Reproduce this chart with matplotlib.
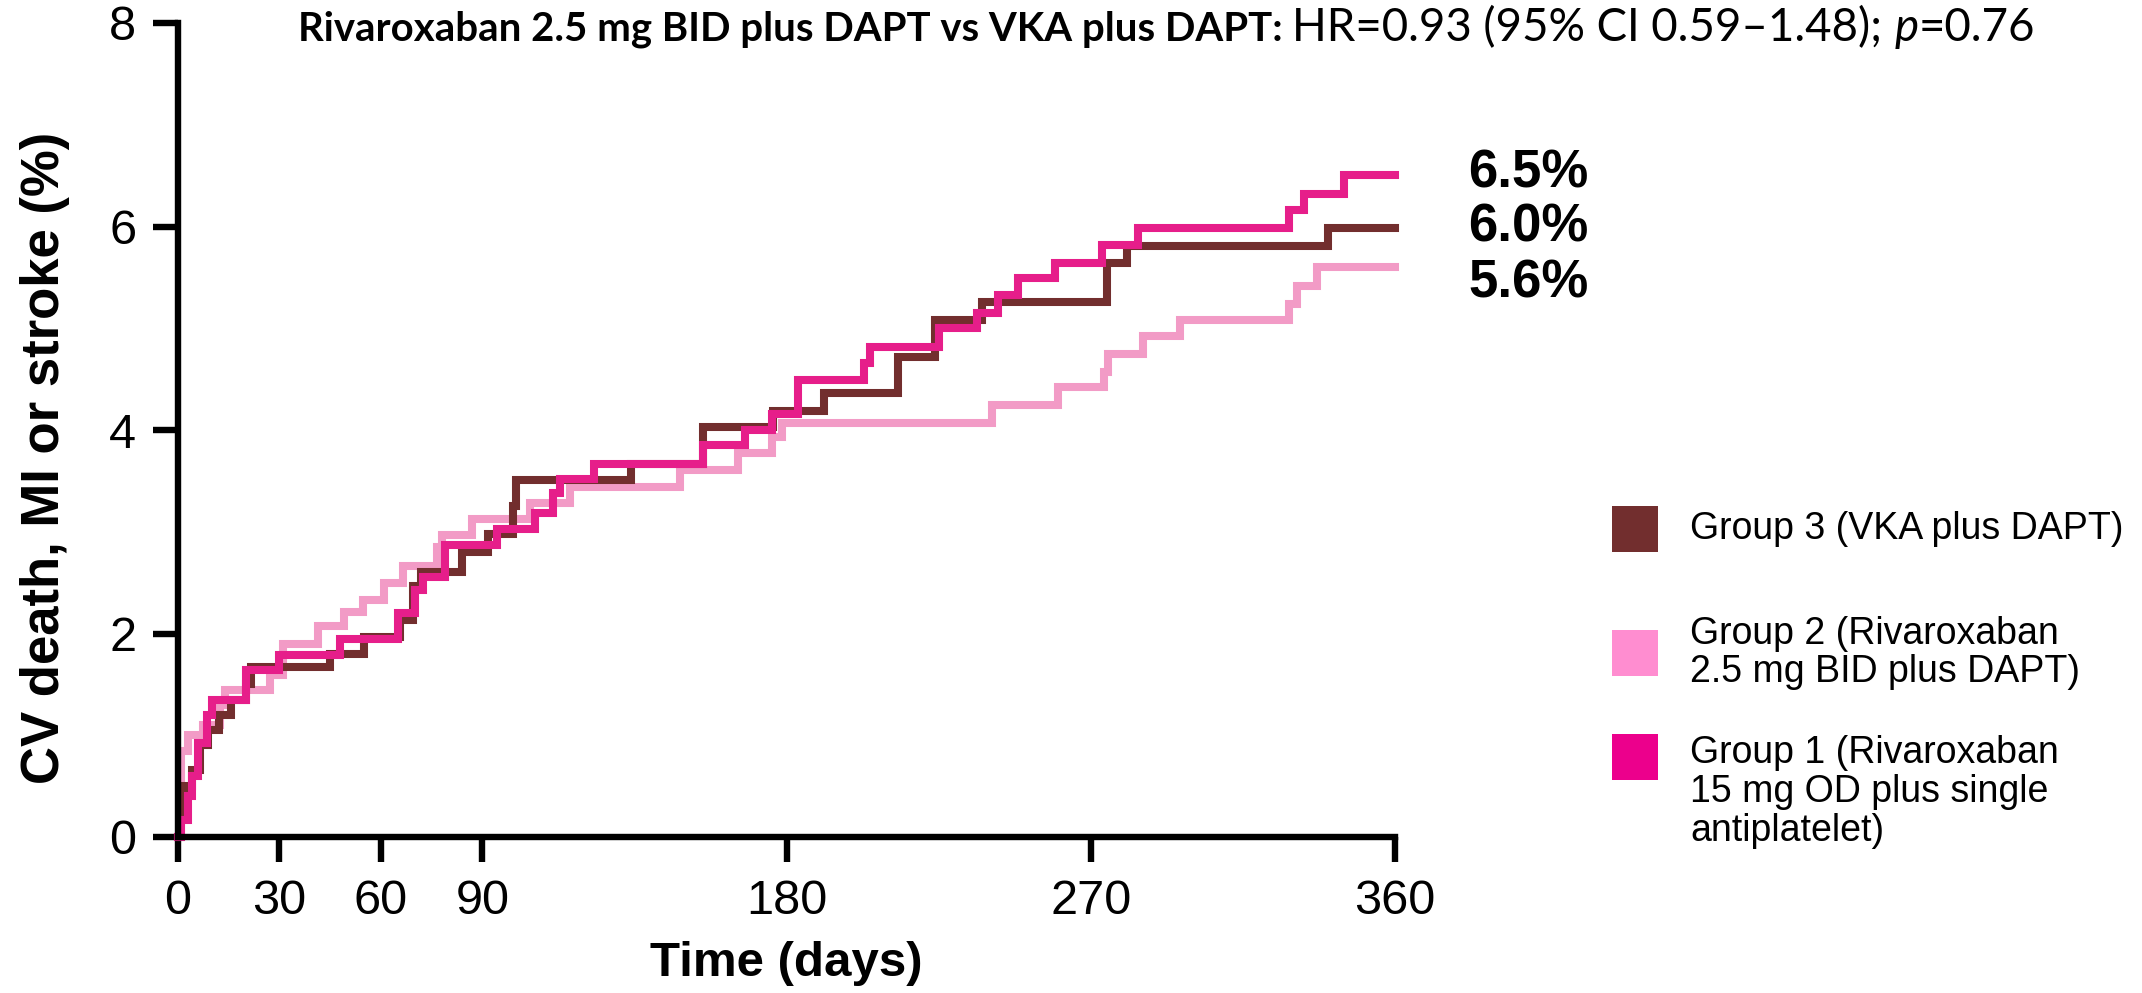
import matplotlib
matplotlib.use('Agg')
import matplotlib.pyplot as plt
from matplotlib.patches import Rectangle

W, H = 2142, 993
DPI = 100

# ---------------- data (step functions) ----------------
g1_days = [0, 1, 3, 4, 6, 8.5, 10, 20, 30, 48, 65, 70, 72.6, 79, 94.3, 105.6, 111, 113,
           123, 155.4, 167.8, 175.6, 183.5, 202.8, 204.8, 225, 236.3, 242.7, 248.6,
           259.5, 273.3, 284, 328.5, 333, 344.8, 360]
g1_vals = [0, 0.17, 0.4, 0.6, 0.92, 1.2, 1.35, 1.64, 1.79, 1.95, 2.2, 2.43, 2.56, 2.87,
           3.03, 3.18, 3.38, 3.52, 3.67, 3.85, 4.0, 4.16, 4.49, 4.66, 4.82, 5.0, 5.15,
           5.33, 5.49, 5.64, 5.82, 5.99, 6.16, 6.32, 6.51, 6.51]

g2_days = [0, 1, 3, 7.5, 12.4, 14, 27.2, 31.2, 41.4, 49, 54.8, 61, 66.7, 76.5, 78, 87,
           104.1, 116, 148.5, 165.8, 175.6, 178.6, 240.7, 260.4, 273.9, 275, 285.6,
           296.4, 328.5, 331, 337, 360]
g2_vals = [0, 0.85, 1.0, 1.1, 1.3, 1.44, 1.59, 1.9, 2.07, 2.21, 2.33, 2.5, 2.66, 2.85,
           2.97, 3.13, 3.28, 3.44, 3.61, 3.77, 3.93, 4.07, 4.25, 4.42, 4.57, 4.75, 4.92,
           5.08, 5.24, 5.42, 5.6, 5.6]

g3_days = [0, 0.5, 2, 4, 6.5, 9, 12, 15.7, 20, 21.5, 45, 55, 65.7, 69.5, 72, 84, 91.8,
           99, 100, 134, 155.4, 176, 191, 213, 224, 237.8, 274.8, 280.6, 340.3, 360]
g3_vals = [0, 0.3, 0.5, 0.66, 0.9, 1.05, 1.2, 1.35, 1.5, 1.67, 1.8, 1.97, 2.13, 2.47,
           2.6, 2.8, 2.98, 3.25, 3.51, 3.67, 4.03, 4.19, 4.36, 4.72, 5.08, 5.26, 5.64,
           5.81, 5.99, 5.99]

x_ticks = [0, 30, 60, 90, 180, 270, 360]
y_ticks = [0, 2, 4, 6, 8]
end_labels = ["6.5%", "6.0%", "5.6%"]
legend_labels = ["Group 3 (VKA plus DAPT)",
                 "Group 2 (Rivaroxaban\n2.5 mg BID plus DAPT)",
                 "Group 1 (Rivaroxaban\n15 mg OD plus single\nantiplatelet)"]

line_colors = {"g1": "#E61E8A", "g2": "#F29BC6", "g3": "#722E2E"}
legend_colors = ["#722E2E", "#FF8DD0", "#EC008C"]

ARIAL = ["Liberation Sans", "DejaVu Sans"]


def fx(x):
    return x / W


def fy(y):
    return 1 - y / H


fig = plt.figure(figsize=(W / DPI, H / DPI), dpi=DPI)
fig.patch.set_facecolor("white")

LW = 5.8
ax = fig.add_axes([fx(178), fy(837), (1395 - 178) / W, (837 - 23) / H])
ax.step(g2_days, g2_vals, where="post", color=line_colors["g2"], lw=LW,
        solid_joinstyle="miter", zorder=2, clip_on=False)
ax.step(g3_days, g3_vals, where="post", color=line_colors["g3"], lw=LW,
        solid_joinstyle="miter", zorder=3, clip_on=False)
ax.step(g1_days, g1_vals, where="post", color=line_colors["g1"], lw=LW,
        solid_joinstyle="miter", zorder=4, clip_on=False)

ax.set_xlim(0, 360)
ax.set_ylim(0, 8)
ax.set_xticks(x_ticks)
ax.set_yticks(y_ticks)
for s in ["top", "right"]:
    ax.spines[s].set_visible(False)
for s in ["left", "bottom"]:
    ax.spines[s].set_linewidth(4.6)
    ax.spines[s].set_capstyle("projecting")
    ax.spines[s].set_zorder(5)
ax.tick_params(direction="out", length=18, width=4.6, labelsize=35, pad=12)
for lab in ax.get_xticklabels() + ax.get_yticklabels():
    lab.set_fontfamily(ARIAL)

fig.text(fx(786), fy(964), "Time (days)", ha="center", va="center",
         fontsize=35.5, fontweight="bold", fontfamily=ARIAL)
fig.text(fx(45), fy(458), "CV death, MI or stroke (%)", ha="center", va="center",
         rotation=90, fontsize=38, fontweight="bold", fontfamily=ARIAL)

# end-of-curve labels
for lab, yc in zip(end_labels, [173, 228, 283]):
    fig.text(fx(1468), fy(yc), lab, ha="left", va="center", fontsize=38,
             fontweight="bold", fontfamily=ARIAL)

# legend
sq = 46
for col, lab, ysq, ytx in zip(legend_colors, legend_labels, [529, 653, 757], [529, 653, 792]):
    fig.patches.append(Rectangle((fx(1612), fy(ysq + sq / 2)), sq / W, sq / H,
                                 transform=fig.transFigure, facecolor=col,
                                 edgecolor="none"))
    fig.text(fx(1690), fy(ytx), lab, ha="left", va="center", fontsize=27,
             fontfamily=ARIAL, linespacing=1.1)

# title made of several runs, baseline aligned
TS = 26
title_parts = [("Rivaroxaban 2.5 mg BID plus DAPT vs VKA plus DAPT: ", "bold", "normal", 0.95),
               ("HR=0.93 (95% CI 0.59\u20131.48); ", "normal", "normal", 1.08),
               ("p", "normal", "italic", 1.08),
               ("=0.76", "normal", "normal", 1.08)]
fig.canvas.draw()
renderer = fig.canvas.get_renderer()
objs = []
for txt, wt, st, k in title_parts:
    t = fig.text(0, fy(41), txt, ha="left", va="baseline", fontsize=TS * k,
                 fontweight=wt, fontstyle=st, fontfamily=["Lato", "DejaVu Sans"])
    objs.append(t)
widths = [t.get_window_extent(renderer).width for t in objs]
total = sum(widths)
scale = (2033 - 298) / total
for t, (_, _, _, k) in zip(objs, title_parts):
    t.set_fontsize(TS * k * scale)
fig.canvas.draw()
x = 298
for t in objs:
    t.set_x(fx(x))
    x += t.get_window_extent(renderer).width

fig.savefig("out.png", dpi=DPI, facecolor="white")
